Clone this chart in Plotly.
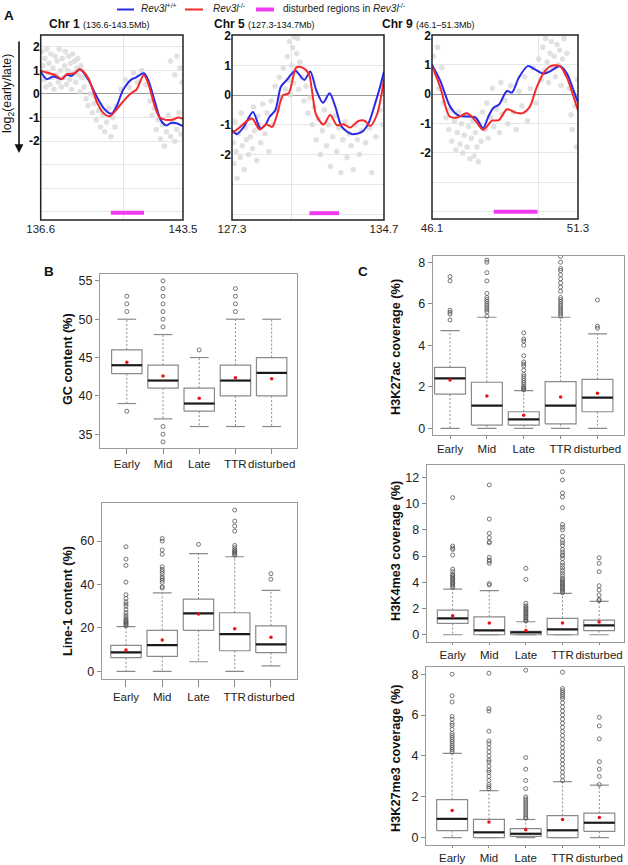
import plotly.graph_objects as go

W, H = 628, 865
FONT = "Liberation Sans, Arial, Helvetica, sans-serif"

def px(x):
    return x / W

def py(y):
    return 1 - y / H

# ---------------- Panel A data ----------------
chr1_x_blue = [136.6, 136.89, 137.21, 137.62, 137.86, 138.10, 138.50, 138.91, 139.31, 139.71, 140.03, 140.28, 140.60, 141.02, 141.16, 141.60, 141.81, 142.13, 142.45, 142.69, 142.94, 143.18, 143.5]
chr1_y_blue = [0.95, 0.63, 0.74, 0.63, 0.81, 0.77, 1.05, 0.60, -0.10, -0.66, -0.84, -0.52, 0.18, 0.63, 0.67, 0.88, 0.60, -0.31, -1.15, -1.33, -1.22, -1.24, -1.36]
chr1_x_red = [136.6, 136.89, 137.29, 137.62, 137.86, 138.26, 138.50, 138.91, 139.31, 139.63, 139.95, 140.28, 140.60, 141.00, 141.24, 141.60, 141.81, 142.13, 142.37, 142.69, 143.02, 143.26, 143.5]
chr1_y_red = [0.99, 0.91, 0.81, 0.63, 0.84, 0.88, 1.05, 0.67, -0.31, -0.80, -0.94, -0.66, -0.31, 0.04, 0.18, 0.81, 0.46, -0.52, -1.00, -1.10, -1.08, -1.00, -1.05]

chr5_x_blue = [127.3, 127.54, 127.87, 128.32, 128.68, 128.92, 129.13, 129.41, 129.68, 129.97, 130.38, 130.82, 131.11, 131.40, 131.73, 132.05, 132.33, 132.65, 133.13, 133.62, 133.94, 134.27, 134.51, 134.7]
chr5_y_blue = [-1.18, -1.31, -1.07, -0.57, -1.12, -1.01, -0.73, -0.51, 0.28, 0.51, 0.82, 0.51, 0.79, 0.17, -0.26, 0.06, -0.39, -1.07, -1.31, -1.24, -0.96, -0.28, 0.28, 0.79]
chr5_x_red = [127.3, 127.62, 128.03, 128.28, 128.65, 128.97, 129.25, 129.49, 129.78, 130.06, 130.43, 130.70, 131.03, 131.19, 131.40, 131.76, 132.08, 132.41, 132.73, 133.05, 133.46, 133.78, 134.03, 134.35, 134.7]
chr5_y_red = [-1.27, -1.12, -0.87, -0.79, -1.16, -0.98, -1.07, -0.67, 0.00, 0.06, 0.93, 0.93, 0.73, 0.17, -0.67, -0.99, -0.67, -1.01, -0.98, -1.09, -0.87, -0.87, -1.04, -0.67, 0.51]

chr9_x_blue = [46.1, 46.40, 46.75, 47.05, 47.41, 47.65, 47.92, 48.12, 48.30, 48.48, 48.77, 48.95, 49.19, 49.51, 49.78, 50.08, 50.32, 50.67, 50.91, 51.15, 51.3]
chr9_y_blue = [1.01, 0.45, -0.43, -0.73, -0.76, -0.79, -1.15, -0.73, -0.45, -0.36, 0.11, 0.06, 0.56, 0.96, 0.84, 0.70, 0.79, 0.96, 0.70, 0.11, -0.28]
chr9_x_red = [46.1, 46.40, 46.73, 46.99, 47.35, 47.65, 47.92, 48.24, 48.48, 48.77, 49.07, 49.31, 49.58, 49.82, 50.08, 50.32, 50.65, 50.91, 51.15, 51.3]
chr9_y_red = [0.99, 0.22, -0.76, -0.79, -0.65, -0.90, -1.21, -0.90, -0.88, -0.51, -0.62, -0.65, -0.43, 0.22, 0.73, 0.96, 0.96, 0.56, -0.11, -0.54]

chr1_pts_x = [136.65, 136.7, 136.75, 136.8, 136.85, 136.9, 136.95, 137.0, 137.05, 137.1, 137.15, 137.2, 137.25, 137.3, 137.35, 137.4, 137.45, 137.5, 137.55, 137.6, 137.65, 137.7, 137.75, 137.8, 137.85, 137.9, 137.95, 138.0, 138.05, 138.1, 138.15, 138.2, 138.25, 138.3, 138.35, 138.4, 138.45, 138.5, 138.55, 138.6, 138.7, 138.8, 138.9, 139.0, 139.1, 139.2, 139.3, 139.4, 139.5, 139.6, 139.7, 139.8, 139.9, 140.0, 140.1, 140.2, 140.3, 140.5, 140.7, 140.9, 141.1, 141.3, 141.5, 141.7, 141.9, 142.0, 142.1, 142.2, 142.3, 142.4, 142.5, 142.6, 142.7, 142.8, 142.9, 143.0, 143.1, 143.2, 143.3, 143.4, 142.9, 143.1, 143.2, 143.35, 143.45]
chr1_pts_y = [1.8, 1.2, 0.6, 1.5, 0.3, 1.9, 0.9, 1.3, 0.4, 1.7, 0.7, 1.1, 0.2, 1.6, 0.8, 1.4, 0.5, 1.9, 1.0, 0.3, 1.5, 0.7, 1.2, 1.8, 0.4, 1.0, 1.6, 0.6, 1.3, 0.2, 1.7, 0.9, 1.4, 0.5, 1.1, 1.5, 0.8, 0.1, 1.2, 0.7, 0.3, -0.2, -0.5, 0.0, -0.8, -0.4, -1.1, -0.7, -1.4, -0.9, -1.6, -1.2, -0.6, -1.8, -1.0, -1.4, -0.5, 0.2, 0.6, 0.3, 0.9, 0.5, 1.0, 0.4, -0.3, -0.9, -0.6, -1.5, -1.1, -1.9, -1.3, -2.2, -1.6, -0.9, -1.8, -1.2, -2.0, -1.5, -0.8, -1.7, 1.4, 0.8, 1.6, 1.1, 0.5]

chr5_pts_x = [127.35, 127.4, 127.45, 127.5, 127.55, 127.6, 127.7, 127.75, 127.8, 127.9, 127.95, 128.0, 128.1, 128.15, 128.2, 128.3, 128.35, 128.4, 128.5, 128.55, 128.6, 128.7, 128.8, 128.9, 129.0, 129.1, 129.2, 129.3, 129.4, 129.5, 129.6, 129.7, 129.8, 129.9, 130.0, 130.05, 130.1, 130.15, 130.2, 130.25, 130.3, 130.35, 130.4, 130.45, 130.5, 130.55, 130.6, 130.7, 130.8, 130.9, 131.0, 131.1, 131.2, 131.3, 131.4, 131.5, 131.6, 131.7, 131.8, 131.9, 132.0, 132.1, 132.2, 132.3, 132.4, 132.5, 132.6, 132.7, 132.8, 132.9, 133.0, 133.1, 133.2, 133.3, 133.4, 133.5, 133.6, 133.8, 134.0, 134.1, 134.3, 134.5, 134.6, 134.65]
chr5_pts_y = [-1.6, -2.3, -0.9, -1.9, -2.8, -1.3, -2.1, -0.6, -1.7, -2.5, -1.1, -1.5, -2.0, -0.8, -1.4, -1.8, -0.4, -1.2, -2.2, -0.7, -1.0, -1.6, -0.3, -1.3, -0.6, -1.9, -0.2, -1.0, 0.3, -0.5, 0.6, -0.1, 0.9, 0.2, 1.3, 0.5, 1.8, 0.0, 1.0, 1.6, 0.4, 1.95, 0.8, 1.4, 1.9, 0.2, 1.1, 0.6, -0.2, 0.3, -0.6, -0.1, -1.0, -0.4, -1.5, -0.8, -2.0, -1.2, -0.5, -1.7, -1.0, -2.4, -1.4, -0.7, -1.9, -1.1, -2.6, -1.5, -0.9, -2.1, -1.3, -1.7, -2.5, -1.0, -1.5, -2.0, -1.2, -1.6, -1.1, -2.6, -1.4, -0.5, 0.3, -1.0]

chr9_pts_x = [46.15, 46.2, 46.3, 46.35, 46.45, 46.5, 46.6, 46.7, 46.75, 46.8, 46.9, 46.95, 47.0, 47.05, 47.1, 47.15, 47.2, 47.25, 47.3, 47.35, 47.4, 47.45, 47.5, 47.55, 47.6, 47.65, 47.7, 47.75, 47.8, 47.85, 47.9, 48.0, 48.05, 48.1, 48.2, 48.25, 48.3, 48.4, 48.5, 48.55, 48.6, 48.7, 48.8, 48.9, 49.0, 49.1, 49.2, 49.3, 49.4, 49.5, 49.6, 49.7, 49.8, 49.9, 50.0, 50.05, 50.1, 50.15, 50.2, 50.25, 50.3, 50.35, 50.4, 50.45, 50.5, 50.55, 50.6, 50.65, 50.7, 50.75, 50.8, 50.85, 50.9, 51.0, 51.05, 51.1, 51.2, 51.25, 51.28]
chr9_pts_y = [1.3, 0.7, 1.6, 0.2, 0.9, -0.3, -0.8, -1.2, -0.5, -1.6, -0.9, -1.9, -1.3, -0.6, -1.7, -1.0, -2.0, -1.4, -0.7, -1.8, -1.1, -2.2, -1.5, -0.9, -2.1, -1.3, -1.8, -2.3, -1.0, -1.6, -0.6, -1.2, -0.3, -1.5, -0.8, 0.2, -1.1, -0.5, -1.3, 0.4, -0.7, -0.2, -1.0, 0.3, -0.6, -1.2, 0.1, -0.4, 0.6, -0.9, 0.2, 0.9, -0.3, 1.2, 0.5, 1.6, 0.8, 1.9, 1.1, 0.4, 1.4, 1.8, 0.9, 1.3, 0.6, 1.7, 1.0, 1.5, 0.3, 1.2, 1.9, 0.7, 1.4, 0.2, -0.7, -1.2, -0.4, -1.8, 0.5]

disturbed_x = [[140.0, 141.61], [131.07, 132.51], [48.30, 49.86]]
disturbed_y = [-5.03, -3.97, -4.0]

chr_titles = ["Chr 1", "Chr 5", "Chr 9"]
chr_ranges = ["(136.6-143.5Mb)", "(127.3-134.7Mb)", "(46.1–51.3Mb)"]
chr_start = [136.6, 127.3, 46.1]
chr_end = [143.5, 134.7, 51.3]
chr_grid = [140.6, 130.2, 49.9]

# ---------------- Box plot data ----------------
categories = ["Early", "Mid", "Late", "TTR", "disturbed"]

gc_q1 = [42.9, 41.0, 38.0, 40.0, 40.0]
gc_med = [44.0, 42.0, 39.0, 42.0, 43.0]
gc_q3 = [46.0, 44.0, 41.0, 44.0, 45.0]
gc_lo = [39.0, 37.0, 36.0, 36.0, 36.0]
gc_hi = [50.0, 48.0, 45.0, 50.0, 50.0]
gc_mean = [44.4, 42.6, 39.7, 42.35, 42.25]
gc_out = [[51, 52, 53, 38], [49, 50, 51, 52, 53, 54, 55, 36, 35, 34], [46], [51, 52, 53, 54], []]

l1_q1 = [6.3, 6.9, 18.9, 9.5, 8.6]
l1_med = [8.75, 12.1, 26.7, 17.2, 12.4]
l1_q3 = [12.0, 18.9, 33.3, 27.0, 21.0]
l1_lo = [0.0, 0.0, 4.45, 0.0, 2.5]
l1_hi = [20.6, 36.2, 54.2, 52.8, 37.3]
l1_mean = [9.8, 14.4, 26.4, 19.6, 15.7]
l1_out = [[57.4, 51.7, 48.8, 41.1, 35.3, 33.6, 32, 31, 30, 28.5, 27, 26, 25, 24, 23.5, 23, 22.5, 22, 21.5, 21],
          [61.2, 60, 55.9, 53.9, 48.2, 47, 46, 45, 43.5, 42.8, 42, 41, 39, 38.4],
          [58.5],
          [74.3, 69.2, 66.9, 64.6, 58, 57, 56, 55.5, 55, 54.5, 54, 53.5],
          [45, 42.4]]

k27ac_q1 = [1.65, 0.16, 0.16, 0.22, 0.80]
k27ac_med = [2.41, 1.09, 0.43, 1.09, 1.48]
k27ac_q3 = [2.94, 2.22, 0.80, 2.25, 2.36]
k27ac_lo = [0.0, 0.0, 0.0, 0.0, 0.0]
k27ac_hi = [4.71, 5.35, 1.82, 5.35, 4.55]
k27ac_mean = [2.33, 1.56, 0.63, 1.51, 1.69]
k27ac_out = [[7.31, 7.1, 5.69, 5.59, 5.5, 5.22],
             [5.4, 5.6, 5.7, 5.8, 5.9, 6.0, 6.1, 6.2, 6.3, 6.5, 7.1, 7.5, 8.0, 8.1],
             [1.85, 1.9, 1.95, 2.0, 2.1, 2.2, 2.3, 2.4, 2.5, 2.6, 2.8, 3.0, 3.1, 3.2, 3.5, 4.0, 4.2, 4.3, 4.6],
             [5.4, 5.5, 5.6, 5.7, 5.8, 5.9, 6.0, 6.1, 6.2, 6.3, 6.6, 6.8, 7.0, 7.2, 7.4, 7.6, 7.7, 8.0, 8.28],
             [4.82, 4.92, 6.18]]

k4me3_q1 = [0.86, 0.0, 0.0, 0.0, 0.31]
k4me3_med = [1.25, 0.33, 0.18, 0.41, 0.71]
k4me3_q3 = [1.88, 1.37, 0.25, 1.25, 1.12]
k4me3_lo = [0.0, 0.0, 0.0, 0.0, 0.0]
k4me3_hi = [3.48, 3.36, 0.99, 3.15, 2.54]
k4me3_mean = [1.45, 0.89, 0.33, 0.89, 0.97]
k4me3_out = [[10.45, 6.76, 6.6, 6.5, 6.08, 5.0, 4.8, 4.6, 4.5, 4.4, 4.3, 4.2, 4.1, 4.0, 3.9, 3.8, 3.7, 3.6],
             [11.42, 8.82, 7.73, 7.4, 7.09, 7.0, 5.9, 5.7, 5.6, 5.44, 3.9, 3.79],
             [5.06, 4.22, 2.4, 2.2, 2.1, 2.0, 1.9, 1.8, 1.7, 1.6, 1.5, 1.4, 1.3, 1.2, 1.1, 1.05],
             [12.43, 11.8, 10.8, 10.5, 9.69, 8.4, 8.2, 8.0, 7.5, 7.2, 7.0, 6.8, 6.5, 6.3, 6.1, 6.0, 5.8, 5.5, 5.3, 5.1, 4.9, 4.7, 4.5, 4.3, 4.2, 4.1, 4.0, 3.9, 3.8, 3.7, 3.6, 3.5, 3.4, 3.3, 3.2],
             [5.87, 5.44, 4.81, 3.74, 3.41, 3.03, 2.7, 2.6]]

k27me3_q1 = [0.34, 0.0, 0.06, 0.0, 0.31]
k27me3_med = [0.92, 0.26, 0.19, 0.36, 0.73]
k27me3_q3 = [1.86, 0.89, 0.44, 1.08, 1.20]
k27me3_lo = [0.0, 0.0, 0.0, 0.0, 0.0]
k27me3_hi = [4.13, 2.30, 0.89, 2.74, 2.57]
k27me3_mean = [1.33, 0.76, 0.39, 0.89, 0.99]
k27me3_out = [[8.0, 6.95, 6.64, 5.94, 5.8, 5.6, 5.5, 5.3, 5.1, 5.0, 4.9, 4.8, 4.7, 4.6, 4.5, 4.4, 4.3, 4.2],
              [8.05, 6.32, 6.2, 5.21, 4.73, 4.6, 4.4, 4.2, 4.0, 3.8, 3.7, 3.5, 3.3, 3.2, 3.0, 2.8, 2.6, 2.5, 2.4],
              [8.2, 3.92, 3.35, 2.8, 2.4, 2.0, 1.9, 1.8, 1.7, 1.6, 1.5, 1.4, 1.3, 1.2, 1.1, 1.0, 0.95],
              [8.1, 7.3, 7.2, 7.1, 7.0, 6.9, 6.8, 6.6, 6.4, 6.2, 6.0, 5.8, 5.6, 5.4, 5.2, 5.0, 4.8, 4.6, 4.4, 4.2, 4.0, 3.8, 3.6, 3.4, 3.2, 3.0, 2.8],
              [5.89, 5.47, 4.84, 3.72, 3.35, 3.0, 2.6]]

fig = go.Figure()
layout = {}
shapes = []
annotations = []

BLUE = "#2a2ae8"
RED = "#f52a2a"
MAGENTA = "#f03cf0"


def axref(i):
    return ("x" if i == 1 else f"x{i}"), ("y" if i == 1 else f"y{i}")


def axkey(i):
    return ("xaxis" if i == 1 else f"xaxis{i}"), ("yaxis" if i == 1 else f"yaxis{i}")


# ---------------- Panel A ----------------
A_xdom = [(40.7, 183), (232, 384), (432, 578)]
A_ydom = [(35, 220), (35, 220), (35, 219)]
A_yrange = [[-5.34, 2.5], [-4.2, 2.02], [-4.25, 2.02]]
pts = [(chr1_pts_x, chr1_pts_y), (chr5_pts_x, chr5_pts_y), (chr9_pts_x, chr9_pts_y)]
blues = [(chr1_x_blue, chr1_y_blue), (chr5_x_blue, chr5_y_blue), (chr9_x_blue, chr9_y_blue)]
reds = [(chr1_x_red, chr1_y_red), (chr5_x_red, chr5_y_red), (chr9_x_red, chr9_y_red)]

for k in range(3):
    i = k + 1
    xr, yr = axref(i)
    xk, yk = axkey(i)
    fig.add_trace(go.Scatter(x=pts[k][0], y=pts[k][1], mode="markers", xaxis=xr, yaxis=yr,
                             marker=dict(size=5.5, color="#dadada", opacity=0.8, line=dict(width=0)),
                             showlegend=False, hoverinfo="skip"))
    fig.add_trace(go.Scatter(x=blues[k][0], y=blues[k][1], mode="lines", xaxis=xr, yaxis=yr,
                             line=dict(color=BLUE, width=2, shape="spline", smoothing=0.8), showlegend=False))
    fig.add_trace(go.Scatter(x=reds[k][0], y=reds[k][1], mode="lines", xaxis=xr, yaxis=yr,
                             line=dict(color=RED, width=2, shape="spline", smoothing=0.8), showlegend=False))
    fig.add_trace(go.Scatter(x=disturbed_x[k], y=[disturbed_y[k]] * 2, mode="lines", xaxis=xr, yaxis=yr,
                             line=dict(color=MAGENTA, width=4), showlegend=False))
    eps = 1e-6
    layout[xk] = dict(domain=[px(A_xdom[k][0]), px(A_xdom[k][1])],
                      range=[chr_start[k] - eps, chr_end[k] + eps],
                      tickvals=[chr_start[k], chr_grid[k], chr_end[k]],
                      ticktext=[str(chr_start[k]), " ", str(chr_end[k])],
                      showgrid=True, gridcolor="#e6e6e6", gridwidth=1, automargin=False,
                      zeroline=False, ticks="", showline=False,
                      tickfont=dict(size=11.5, color="#222", family=FONT), anchor=yr)
    tv = [-5, -4, -3, -2, -1, 0, 1, 2]
    tt = [" ", " ", " ", "<b>-2</b>", "<b>-1</b>", "<b>0</b>", "<b>1</b>", "<b>2</b>"]
    layout[yk] = dict(domain=[py(A_ydom[k][1]), py(A_ydom[k][0])], range=A_yrange[k],
                      tickvals=tv, ticktext=tt, showgrid=True, gridcolor="#e6e6e6", gridwidth=1,
                      zeroline=True, zerolinecolor="#9a9a9a", zerolinewidth=1.2, automargin=False,
                      ticks="", showline=False,
                      tickfont=dict(size=12, color="#111", family=FONT), anchor=xr)
    shapes.append(dict(type="rect", xref=f"{xr} domain", yref=f"{yr} domain", x0=0, x1=1, y0=0, y1=1,
                       line=dict(color="#222222", width=1.5), fillcolor="rgba(0,0,0,0)", layer="above"))

# ---------------- Box panels ----------------
box_panels = [
    dict(q1=gc_q1, med=gc_med, q3=gc_q3, lo=gc_lo, hi=gc_hi, mean=gc_mean, out=gc_out,
         xdom=(100, 297), ydom=(274, 448), xrange=[-0.74, 4.70], yrange=[33.2, 55.9],
         ytick=[35, 40, 45, 50, 55], title="GC content (%)", tx=68, ty=359, tl=5),
    dict(q1=l1_q1, med=l1_med, q3=l1_q3, lo=l1_lo, hi=l1_hi, mean=l1_mean, out=l1_out,
         xdom=(101.7, 296.7), ydom=(503.3, 679), xrange=[-0.67, 4.71], yrange=[-3.5, 77.4],
         ytick=[0, 20, 40, 60], title="Line-1 content (%)", tx=68, ty=601, tl=7),
    dict(q1=k27ac_q1, med=k27ac_med, q3=k27ac_q3, lo=k27ac_lo, hi=k27ac_hi, mean=k27ac_mean, out=k27ac_out,
         xdom=(432.7, 624), ydom=(256, 435), xrange=[-0.47, 4.72], yrange=[-0.32, 8.30],
         ytick=[0, 2, 4, 6, 8], title="H3K27ac coverage (%)", tx=396, ty=347, tl=3),
    dict(q1=k4me3_q1, med=k4me3_med, q3=k4me3_q3, lo=k4me3_lo, hi=k4me3_hi, mean=k4me3_mean, out=k4me3_out,
         xdom=(426.7, 624), ydom=(465, 641.7), xrange=[-0.71, 4.68], yrange=[-0.53, 12.94],
         ytick=[0, 2, 4, 6, 8, 10, 12], title="H3K4me3 coverage (%)", tx=396, ty=551, tl=2),
    dict(q1=k27me3_q1, med=k27me3_med, q3=k27me3_q3, lo=k27me3_lo, hi=k27me3_hi, mean=k27me3_mean, out=k27me3_out,
         xdom=(426, 624), ydom=(667.3, 845), xrange=[-0.71, 4.67], yrange=[-0.36, 8.34],
         ytick=[0, 2, 4, 6, 8], title="H3K27me3 coverage (%)", tx=396, ty=759, tl=2),
]

BW = 0.42   # half box width (style)
CW = 0.26   # half staple width (style)

for j, p in enumerate(box_panels):
    i = j + 4
    xr, yr = axref(i)
    xk, yk = axkey(i)
    n = len(categories)
    wx, wy, bx, by, cx, cy, mx, my = [], [], [], [], [], [], [], []
    ox, oy = [], []
    for c in range(n):
        wx += [c, c, None, c, c, None]
        wy += [p["q3"][c], p["hi"][c], None, p["q1"][c], p["lo"][c], None]
        bx += [c - BW, c + BW, c + BW, c - BW, c - BW, None]
        by += [p["q1"][c], p["q1"][c], p["q3"][c], p["q3"][c], p["q1"][c], None]
        cx += [c - CW, c + CW, None, c - CW, c + CW, None]
        cy += [p["hi"][c], p["hi"][c], None, p["lo"][c], p["lo"][c], None]
        mx += [c - BW, c + BW, None]
        my += [p["med"][c], p["med"][c], None]
        ox += [c] * len(p["out"][c])
        oy += p["out"][c]
    fig.add_trace(go.Scatter(x=wx, y=wy, mode="lines", xaxis=xr, yaxis=yr,
                             line=dict(color="#8a8a8a", width=1, dash="2px,2px"), showlegend=False))
    fig.add_trace(go.Scatter(x=cx, y=cy, mode="lines", xaxis=xr, yaxis=yr,
                             line=dict(color="#8a8a8a", width=1.2), showlegend=False))
    fig.add_trace(go.Scatter(x=bx, y=by, mode="lines", xaxis=xr, yaxis=yr,
                             line=dict(color="#8a8a8a", width=1.2), showlegend=False))
    fig.add_trace(go.Scatter(x=mx, y=my, mode="lines", xaxis=xr, yaxis=yr,
                             line=dict(color="#1a1a1a", width=2.2), showlegend=False))
    fig.add_trace(go.Scatter(x=ox, y=oy, mode="markers", xaxis=xr, yaxis=yr,
                             marker=dict(symbol="circle-open", size=4, color="#555555", line=dict(width=0.8)),
                             showlegend=False))
    fig.add_trace(go.Scatter(x=list(range(n)), y=p["mean"], mode="markers", xaxis=xr, yaxis=yr,
                             marker=dict(symbol="circle", size=3.5, color="#ee1111"), showlegend=False))
    layout[xk] = dict(domain=[px(p["xdom"][0]), px(p["xdom"][1])], range=p["xrange"],
                      tickvals=list(range(n)), ticktext=categories, ticks="outside", ticklen=p["tl"],
                      tickangle=0, automargin=False,
                      tickcolor="#8a8a8a", showgrid=False, zeroline=False, showline=True, mirror=True,
                      linecolor="#9a9a9a", linewidth=1.2,
                      tickfont=dict(size=11.5, color="#222", family=FONT), anchor=yr)
    layout[yk] = dict(domain=[py(p["ydom"][1]), py(p["ydom"][0])], range=p["yrange"],
                      tickvals=p["ytick"], ticks="outside", ticklen=4, tickcolor="#8a8a8a",
                      showgrid=False, zeroline=False, showline=True, mirror=True, automargin=False,
                      linecolor="#9a9a9a", linewidth=1.2,
                      tickfont=dict(size=12.5, color="#222", family=FONT), anchor=xr)
    annotations.append(dict(x=px(p["tx"]), y=py(p["ty"]), xref="paper", yref="paper",
                            text="<b>" + p["title"] + "</b>", textangle=-90, showarrow=False,
                            font=dict(size=12.7, color="#111", family=FONT),
                            xanchor="center", yanchor="middle"))

# ---------------- Panel A annotations ----------------
title_x = [47, 212, 380]
for k in range(3):
    annotations.append(dict(x=px(title_x[k]), y=py(33), xref="paper", yref="paper", showarrow=False,
                            xanchor="left", yanchor="bottom",
                            text="<b>" + chr_titles[k] + "</b> <span style='font-size:9px'>" + chr_ranges[k] + "</span>",
                            font=dict(size=12, color="#111", family=FONT)))

annotations.append(dict(x=px(8), y=py(94), xref="paper", yref="paper", showarrow=False, textangle=-90,
                        text="log<sub>2</sub>(early/late)", font=dict(size=12.3, color="#111", family=FONT),
                        xanchor="center", yanchor="middle"))
annotations.append(dict(x=px(19), y=py(153), ax=0, ay=-113, xref="paper", yref="paper",
                        axref="pixel", ayref="pixel", text="", showarrow=True, arrowhead=2,
                        arrowsize=1.1, arrowwidth=1.6, arrowcolor="#111"))

# panel letters
for lab, lx, ly in [("A", 9, 16), ("B", 49, 271), ("C", 363, 271)]:
    annotations.append(dict(x=px(lx), y=py(ly), xref="paper", yref="paper", showarrow=False,
                            text="<b>" + lab + "</b>", font=dict(size=13.5, color="#111", family=FONT),
                            xanchor="center", yanchor="middle"))

# legend
legend_items = [(117, 134, 139, BLUE, 2, "<i>Rev3l</i><sup>+/+</sup>"),
                (185, 203, 211, RED, 2, "<i>Rev3l</i><sup>-/-</sup>"),
                (256, 274, 281, MAGENTA, 4, "disturbed regions in <i>Rev3l</i><sup>-/-</sup>")]
for x0, x1, tx, col, lw, txt in legend_items:
    shapes.append(dict(type="line", xref="paper", yref="paper", x0=px(x0), x1=px(x1), y0=py(9.5), y1=py(9.5),
                       line=dict(color=col, width=lw)))
    annotations.append(dict(x=px(tx), y=py(8), xref="paper", yref="paper", showarrow=False,
                            xanchor="left", yanchor="middle", text=txt,
                            font=dict(size=10, color="#222", family=FONT)))

layout.update(dict(width=W, height=H, margin=dict(l=0, r=0, t=0, b=0, pad=0, autoexpand=False),
                   paper_bgcolor="white", plot_bgcolor="white",
                   font=dict(family=FONT), annotations=annotations, shapes=shapes,
                   showlegend=False))
fig.update_layout(**layout)
fig.write_html("out.html", config={"displayModeBar": False},
               post_script="document.body.style.margin='0';document.body.style.overflow='hidden';")
